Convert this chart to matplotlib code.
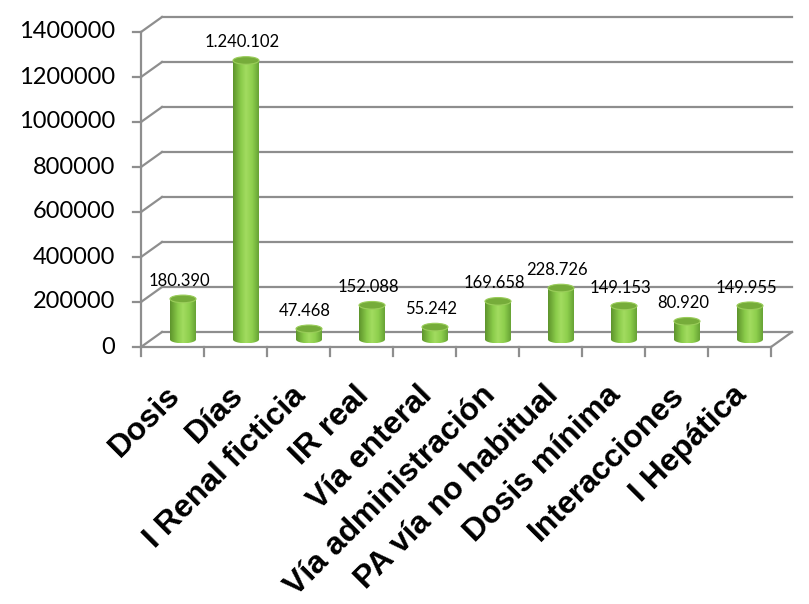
import numpy as np
import matplotlib.pyplot as plt
from matplotlib.patches import Ellipse, Polygon
from matplotlib.colors import LinearSegmentedColormap

categorias = ['Dosis', 'Días', 'I Renal ficticia', 'IR real', 'Vía enteral',
              'Vía administración', 'PA vía no habitual', 'Dosis mínima',
              'Interacciones', 'I Hepática']
valores = [180390, 1240102, 47468, 152088, 55242, 169658, 228726, 149153, 80920, 149955]
yticks = [0, 200000, 400000, 600000, 800000, 1000000, 1200000, 1400000]

# escala: pixeles -> datos
PX = 200000 / 45.0       # valor por pixel vertical
CX = 1 / 63.0            # categoria por pixel horizontal
DX = 21 * CX             # profundidad 3D
DY = 15 * PX
gris = '#8e8e8e'

fig = plt.figure(figsize=(8.09, 6.04), dpi=100)
ax = fig.add_axes([0, 0, 1, 1])
ax.set_xlim(-0.5 - 141 * CX, -0.5 + (809 - 141) * CX)
ax.set_ylim(-(604 - 347) * PX, 347 * PX)
ax.axis('off')

n = len(categorias)
x0, x1 = -0.5, n - 0.5

# pared del fondo y rejilla
for t in yticks:
    ax.plot([x0 + DX, x1 + DX], [t + DY, t + DY], color=gris, lw=1.6, zorder=1)
    ax.plot([x0, x0 + DX], [t, t + DY], color=gris, lw=1.6, zorder=1)
    ax.plot([x0 - 8 * CX, x0], [t, t], color=gris, lw=1.6, zorder=1)
    ax.text(x0 - 26 * CX, t, str(t), ha='right', va='center',
            fontsize=17, family='Lato', color='black')
ax.plot([x0, x0], [0, yticks[-1]], color=gris, lw=1.6, zorder=1)
ax.plot([x0, x1], [0, 0], color=gris, lw=1.6, zorder=1)
ax.plot([x1, x1 + DX], [0, DY], color=gris, lw=1.6, zorder=1)
for b in np.arange(n + 1) - 0.5:
    ax.plot([b, b], [0, -9 * PX], color=gris, lw=1.6, zorder=1)

# cilindros
cmap = LinearSegmentedColormap.from_list('verde', [
    (0.0, '#5e942c'), (0.3, '#8acb4a'), (0.5, '#a2dc60'),
    (0.75, '#8ecf4d'), (1.0, '#67a335')])
grad = np.linspace(0, 1, 64).reshape(1, -1)
w = 13 * CX
ry = 3.8 * PX
for i, v in enumerate(valores):
    cx = i + DX / 2
    y0 = DY / 2
    y1 = DY / 2 + v
    th = np.linspace(np.pi, 2 * np.pi, 40)
    arco = np.column_stack([cx + w * np.cos(th), y0 + ry * np.sin(th)])
    pts = np.vstack([[cx - w, y1], arco, [cx + w, y1]])
    body = Polygon(pts, closed=True, facecolor='none', edgecolor='none')
    ax.add_patch(body)
    im = ax.imshow(grad, cmap=cmap, extent=[cx - w, cx + w, y0 - ry, y1],
                   aspect='auto', zorder=2, interpolation='bilinear')
    im.set_clip_path(body)
    ax.add_patch(Ellipse((cx, y1), 2 * w, 2 * ry, facecolor='#76ac3a',
                         edgecolor='#9acd5a', lw=0.8, zorder=3))
    ax.text(cx - 4 * CX, y1 + 18 * PX, f'{v:,}'.replace(',', '.'),
            ha='center', va='center', fontsize=12, family='Lato', zorder=4)

# etiquetas de categoria
for i, c in enumerate(categorias):
    ax.text(i + 3 * CX, -44 * PX, c, rotation=45, rotation_mode='anchor',
            ha='right', va='center', fontsize=23, fontweight='bold',
            family='Liberation Sans')

fig.savefig('out.png', dpi=100)
